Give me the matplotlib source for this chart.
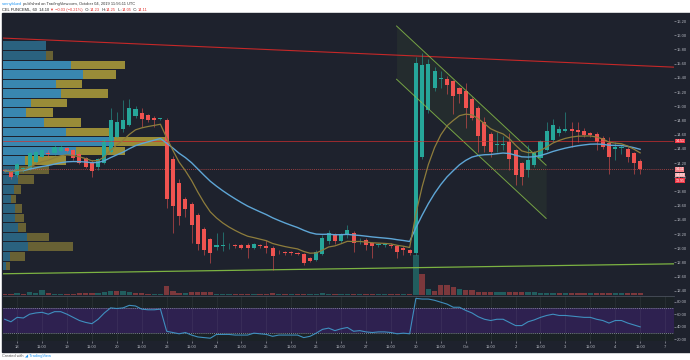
import numpy as np
import pandas as pd
import matplotlib
matplotlib.use("Agg")
import matplotlib.pyplot as plt
from matplotlib.patches import Rectangle
import matplotlib.transforms as mtrans

plt.rcParams["font.family"] = ["Liberation Sans", "DejaVu Sans"]

# ---------------- data ----------------
opens = [14.10, 14.08, 14.03, 14.11, 14.11, 14.22, 14.29, 14.34, 14.34, 14.37,
         14.41, 14.38, 14.33, 14.27, 14.22, 14.15, 14.20, 14.36, 14.57, 14.68,
         14.74, 14.86, 14.91, 14.87, 14.84, 14.82, 14.81, 14.25, 13.92, 13.69,
         13.62, 13.47, 13.27, 13.13, 13.02, 13.03, 13.04, 13.04, 13.04, 13.05,
         13.01, 13.04, 13.03, 13.01, 12.95, 12.94, 12.94, 12.93, 12.92, 12.86,
         12.84, 12.92, 13.10, 13.20, 13.10, 13.18, 13.22, 13.09, 13.12, 13.07,
         13.05, 13.05, 13.05, 13.03, 13.01, 12.97, 12.93, 14.29, 14.94, 15.26,
         15.38, 15.39, 15.35, 15.25, 15.21, 15.10, 14.97, 14.78, 14.61, 14.45,
         14.46, 14.50, 14.38, 14.20, 14.10, 14.17, 14.27, 14.39, 14.52, 14.62,
         14.65, 14.68, 14.67, 14.65, 14.62, 14.61, 14.55, 14.48, 14.40, 14.41,
         14.40, 14.34, 14.23]
highs = [14.12, 14.10, 14.21, 14.15, 14.36, 14.38, 14.40, 14.38, 14.46, 14.45,
         14.43, 14.40, 14.35, 14.29, 14.24, 14.27, 14.55, 14.97, 14.92, 15.09,
         15.10, 15.00, 14.97, 14.89, 14.86, 14.84, 14.83, 14.30, 13.98, 13.72,
         13.65, 13.50, 13.30, 13.15, 13.21, 13.23, 13.08, 13.06, 13.06, 13.07,
         13.08, 13.06, 13.12, 13.03, 12.97, 12.96, 12.96, 12.95, 12.93, 12.88,
         12.97, 13.18, 13.26, 13.22, 13.22, 13.32, 13.24, 13.14, 13.14, 13.09,
         13.08, 13.08, 13.07, 13.05, 13.03, 12.99, 15.70, 15.75, 15.66, 15.55,
         15.49, 15.42, 15.37, 15.27, 15.33, 15.13, 15.00, 14.85, 14.64, 14.64,
         14.58, 14.62, 14.40, 14.22, 14.45, 14.37, 14.53, 14.78, 14.82, 14.72,
         14.92, 14.78, 14.78, 14.69, 14.64, 14.64, 14.58, 14.57, 14.50, 14.45,
         14.43, 14.36, 14.25]
lows = [14.07, 13.97, 14.00, 14.08, 14.10, 14.20, 14.27, 14.29, 14.32, 14.35,
        14.35, 14.24, 14.18, 14.13, 14.00, 14.10, 14.18, 14.34, 14.55, 14.64,
        14.72, 14.84, 14.71, 14.78, 14.71, 14.80, 13.57, 13.21, 13.33, 13.44,
        13.07, 12.97, 12.90, 12.79, 12.97, 12.96, 12.99, 13.00, 12.99, 12.86,
        12.99, 13.01, 12.93, 12.69, 12.92, 12.91, 12.91, 12.90, 12.77, 12.80,
        12.82, 12.90, 13.06, 13.06, 13.08, 13.15, 12.95, 13.06, 12.97, 12.86,
        13.02, 13.02, 13.01, 12.86, 12.91, 12.90, 12.90, 14.25, 14.90, 15.22,
        15.25, 15.17, 14.89, 15.04, 14.69, 14.80, 14.36, 14.36, 14.29, 14.36,
        14.39, 14.10, 13.89, 13.89, 14.00, 14.15, 14.25, 14.37, 14.50, 14.58,
        14.63, 14.43, 14.50, 14.56, 14.57, 14.38, 14.40, 14.05, 14.24, 14.33,
        14.22, 14.04, 14.05]
closes = [14.09, 14.01, 14.18, 14.13, 14.34, 14.36, 14.38, 14.33, 14.43, 14.43,
          14.37, 14.27, 14.20, 14.15, 14.09, 14.25, 14.52, 14.81, 14.78, 14.81,
          14.98, 14.96, 14.82, 14.80, 14.80, 14.82, 13.69, 13.59, 13.46, 13.55,
          13.33, 13.06, 12.97, 12.93, 13.04, 13.04, 13.04, 13.03, 13.01, 13.00,
          13.06, 13.03, 13.01, 12.89, 12.94, 12.93, 12.93, 12.92, 12.79, 12.82,
          12.95, 13.15, 13.22, 13.10, 13.20, 13.25, 13.08, 13.10, 13.05, 13.03,
          13.05, 13.05, 13.03, 12.95, 12.97, 12.93, 15.61, 15.58, 15.59, 15.50,
          15.40, 15.30, 15.14, 15.17, 14.98, 14.84, 14.58, 14.44, 14.36, 14.46,
          14.46, 14.25, 14.03, 14.01, 14.24, 14.35, 14.51, 14.65, 14.73, 14.68,
          14.68, 14.65, 14.63, 14.59, 14.59, 14.49, 14.42, 14.29, 14.42, 14.43,
          14.29, 14.20, 14.11]
volumes = [1, 1.5, 2, 1, 2.7, 2, 5, 2, 1.5, 1.5,
           1.5, 1.5, 2, 2, 2, 2.5, 3, 4, 4, 4,
           3, 2, 2, 1.5, 1.5, 1.5, 9, 4, 2.5, 2.5,
           3, 3, 3, 3, 1.5, 1.5, 1, 1, 1, 1,
           1, 1, 1, 2, 1, 1, 1, 1, 1.5, 1,
           1.5, 2.5, 1.5, 1, 1, 1.5, 1.5, 1, 1.5, 1.5,
           1, 1, 1, 1.5, 1.5, 1.5, 40, 21, 6, 4,
           10, 10, 8, 6, 5, 5, 3, 3, 3, 3,
           3, 3, 3, 3, 3, 3, 2, 2, 2, 2,
           2, 2, 2, 2, 2, 2, 2, 2, 2, 2,
           2, 2, 2]
rsi_values = [52, 48, 55, 54, 60, 62, 63, 60, 64, 64,
              60, 55, 50, 47, 45, 52, 62, 70, 69, 70,
              74, 73, 68, 67, 67, 68, 33, 31, 29, 31,
              27, 24, 23, 22, 28, 28, 28, 27, 27, 27,
              30, 29, 28, 25, 27, 27, 27, 27, 23, 25,
              30, 36, 38, 34, 37, 39, 33, 34, 32, 31,
              32, 32, 31, 29, 30, 29, 85, 84, 84, 82,
              79, 76, 71, 71, 66, 62, 56, 52, 50, 52,
              52, 47, 42, 42, 48, 51, 55, 58, 60, 58,
              58, 57, 56, 55, 55, 52, 50, 46, 50, 50,
              46, 43, 40]

day_labels = ["18", "19", "20", "23", "24", "25", "26", "27", "30", "Oct", "2", "3", "4", "7"]
bars_per_day = 8
first_day_bar = 2
price_ticks = [16.2, 16.0, 15.8, 15.6, 15.4, 15.2, 15.0, 14.8, 14.6, 14.4, 14.2,
               14.0, 13.8, 13.6, 13.4, 13.2, 13.0, 12.8, 12.6, 12.4]
rsi_ticks = [80, 60, 40, 20]

# visible-range volume profile rows (top row first)
vp_top = 15.92
vp_step = 0.1348
vp_up = [43, 43, 67, 79, 52, 57, 28, 23, 41, 62, 110, 72, 22, 15, 15, 11, 8, 12, 12, 15, 24, 25, 7, 3]
vp_down = [0, 6, 54, 33, 26, 47, 35, 26, 36, 46, 50, 49, 40, 31, 16, 7, 5, 7, 9, 8, 22, 44, 15, 4]
vp_value_area = [0, 0, 1, 1, 1, 1, 1, 1, 1, 1, 1, 1, 1, 0, 0, 0, 0, 0, 0, 0, 0, 0, 0, 0]
poc_price = 14.51
last_price = 14.11

# user drawings: (bar index, price) end points
red_line_x, red_line_y = [-0.3, 107.5], [15.96, 15.55]
green_line_x, green_line_y = [-0.3, 107.5], [12.64, 12.78]
chan_up_x, chan_up_y = [62.9, 86.9], [16.13, 14.17]
chan_lo_x, chan_lo_y = [62.9, 86.9], [15.38, 13.42]

# right-axis price tags
tag_values = [14.51, 14.11, 14.03, 13.95]
tag_colors = ["#f23645", "#f57f86", "#f7a6aa", "#f23645"]

# header / footer text
header_user = "sonnyblued"
header_rest = " published on TradingView.com, October 04, 2019 11:56:11 UTC"
header_sym = "CEL FUNCEML, 60  14.10 "
header_chg = "▼ −0.03 (−0.21%)"
header_ohlc = [("O", "14.23"), ("H", "14.25"), ("L", "14.05"), ("C", "14.11")]

# ---------------- derived ----------------
n = len(closes)
idx = np.arange(n)
cl = pd.Series(closes)
ema_fast = cl.ewm(span=10, adjust=False).mean()
ema_slow = cl.ewm(span=25, adjust=False).mean()

# ---------------- figure ----------------
W, H = 690, 360
fig = plt.figure(figsize=(W / 100, H / 100), dpi=100)
fig.patch.set_facecolor("white")
fig.patches.append(Rectangle((2 / W, 1 - 352 / H), 688 / W, (352 - 13) / H,
                             transform=fig.transFigure, color="#1e222d", zorder=0))

L, Wd = 3 / W, 671 / W
main_pos = [L, 1 - 295 / H, Wd, 281 / H]
rsi_pos = [L, 1 - 341 / H, Wd, 45 / H]
XLIM = (-0.27, 107.43)
YLIM = (12.341, 16.299)
RLIM = (17.6, 88.8)

UP, DN = "#26a69a", "#ef5350"
TXT = "#b2b5be"
FS = 3.0

day_bars = [first_day_bar + bars_per_day * k for k in range(len(day_labels))]
hour_bars = [b + 4 for b in day_bars[:-1]]
xt = sorted(day_bars + hour_bars)
xl = {b: lab for b, lab in zip(day_bars, day_labels)}
xl.update({b: "11:00" for b in hour_bars})

def clean(a):
    a.set_xlim(*XLIM)
    for s in a.spines.values():
        s.set_visible(False)

# background axes
ax_bg = fig.add_axes(main_pos, zorder=0)
ax_bg.set_facecolor("#1b2226")
clean(ax_bg); ax_bg.set_ylim(*YLIM)
ax_bg.set_xticks([]); ax_bg.set_yticks([])
ax_bg.fill_between(red_line_x, green_line_y, red_line_y, color="#3a413e", lw=0, zorder=0)
ax_bg.fill_between(green_line_x, [YLIM[0]] * 2, green_line_y, color="#3d4247", lw=0, zorder=0)
for b in xt:
    ax_bg.axvline(b, color="white", alpha=0.06, lw=0.6, zorder=1)
for p in price_ticks:
    ax_bg.axhline(p, color="white", alpha=0.06, lw=0.6, zorder=1)

# volume profile
ax_vp = fig.add_axes(main_pos, zorder=1)
ax_vp.patch.set_alpha(0)
for s in ax_vp.spines.values():
    s.set_visible(False)
ax_vp.set_xticks([]); ax_vp.set_yticks([])
ax_vp.set_ylim(*YLIM)
tot = np.array(vp_up) + np.array(vp_down)
ax_vp.set_xlim(0, tot.max() / 0.241)
centers = [vp_top - (k + 0.5) * vp_step for k in range(len(vp_up))]
for cy, u, dv, va in zip(centers, vp_up, vp_down, vp_value_area):
    bc = "#3f9ac8" if va else "#2d6e8e"
    yc = "#b9a83c" if va else "#7b7237"
    ax_vp.barh(cy, u, height=vp_step * 0.9, left=0, color=bc, alpha=0.85, lw=0)
    ax_vp.barh(cy, dv, height=vp_step * 0.9, left=u, color=yc, alpha=0.8, lw=0)

# volume
ax_vol = fig.add_axes(main_pos, zorder=2)
ax_vol.patch.set_alpha(0)
clean(ax_vol)
ax_vol.set_xticks([]); ax_vol.set_yticks([])
ax_vol.set_ylim(0, 281)
vcol = [UP if (i == 0 and closes[0] >= opens[0]) or (i > 0 and closes[i] >= closes[i - 1]) else DN
        for i in range(n)]
ax_vol.bar(idx, volumes, width=0.85, color=vcol, alpha=0.45, lw=0)

# main price axes
ax = fig.add_axes(main_pos, zorder=3)
ax.patch.set_alpha(0)
clean(ax); ax.set_ylim(*YLIM)
ax.plot(red_line_x, red_line_y, color="#c62828", lw=0.8)
ax.plot(green_line_x, green_line_y, color="#7cb342", lw=0.9)
ax.fill_between(chan_up_x, chan_lo_y, chan_up_y, color="#7cb342", alpha=0.07, lw=0)
ax.plot(chan_up_x, chan_up_y, color="#8bc34a", lw=0.7, alpha=0.8)
ax.plot(chan_lo_x, chan_lo_y, color="#8bc34a", lw=0.7, alpha=0.8)
ax.axhline(poc_price, color="#d32f2f", lw=0.6, alpha=0.8)
ax.axhline(last_price, color="#ef5350", lw=0.5, ls=(0, (1.5, 1.5)), alpha=0.8)

o = np.array(opens); c = np.array(closes)
col = np.where(c >= o, UP, DN)
ax.vlines(idx, lows, highs, colors=col, lw=0.6, alpha=0.65)
body = np.maximum(np.abs(c - o), 0.012)
ax.bar(idx, body, bottom=np.minimum(o, c), width=0.65, color=col, lw=0)

ax.plot(idx, ema_slow, color="#5ea6d6", lw=1.0)
ax.plot(idx, ema_fast, color="#8e7d3c", lw=0.9)

ax.yaxis.tick_right()
ax.set_yticks(price_ticks)
ax.set_yticklabels([f"{p:.2f}" for p in price_ticks])
ax.tick_params(axis="y", length=1.2, width=0.4, color=TXT, pad=1.0, labelsize=FS, labelcolor=TXT)
ax.set_xticks([])

blend = mtrans.blended_transform_factory(ax.transAxes, ax.transData)
for v, cc in zip(tag_values, tag_colors):
    ax.text(1.002, v, f"{v:.2f}", transform=blend, fontsize=2.6, color="white",
            va="center", ha="left",
            bbox=dict(boxstyle="square,pad=0.1", fc=cc, ec="none"), clip_on=False)

# RSI panel
ar = fig.add_axes(rsi_pos, zorder=3)
ar.set_facecolor("#1b2226")
clean(ar); ar.set_ylim(*RLIM)
ar.axhspan(30, 70, color="#2e2150", lw=0)
ar.axhline(70, color="#9aa0b0", lw=0.5, ls=(0, (1.5, 1.5)))
ar.axhline(30, color="#9aa0b0", lw=0.5, ls=(0, (1.5, 1.5)))
for b in xt:
    ar.axvline(b, color="white", alpha=0.06, lw=0.6)
ar.plot(idx, rsi_values, color="#3f8fbf", lw=0.8)
ar.yaxis.tick_right()
ar.set_yticks(rsi_ticks)
ar.set_yticklabels([f"{t:.2f}" for t in rsi_ticks])
ar.tick_params(axis="y", length=1.2, width=0.4, color=TXT, pad=1.0, labelsize=FS, labelcolor=TXT)
ar.set_xticks(xt)
ar.set_xticklabels([xl[b] for b in xt])
ar.tick_params(axis="x", length=1.2, width=0.4, color=TXT, pad=2.0, labelsize=FS, labelcolor=TXT)
ar.plot([0, 1], [1, 1], transform=ar.transAxes, color="#4a505c", lw=0.6, clip_on=False)

# header / footer (chained texts)
ov = fig.add_axes([0, 0, 1, 1], zorder=10)
ov.set_axis_off()
ov.set_xlim(0, W); ov.set_ylim(H, 0)
HFS = 2.9

def chain(prev, s, color):
    return ov.annotate(s, xy=(1, 0.5), xycoords=prev, xytext=(0, 0), textcoords="offset points",
                       va="center", ha="left", fontsize=HFS, color=color)

t = ov.text(2, 4, header_user, fontsize=HFS, color="#2196f3", va="center")
chain(t, header_rest, "#333333")
t = ov.text(2, 10, header_sym, fontsize=HFS, color="#222222", va="center")
t = chain(t, header_chg, "#e53935")
for k, v in header_ohlc:
    t = chain(t, "  " + k + ":", "#222222")
    t = chain(t, v, "#e53935")
t = ov.text(2, 356, "Created with ", fontsize=2.8, color="#555555", va="center")
chain(t, "◢ TradingView", "#2196f3")

fig.savefig("out.png", dpi=100, facecolor="white")
